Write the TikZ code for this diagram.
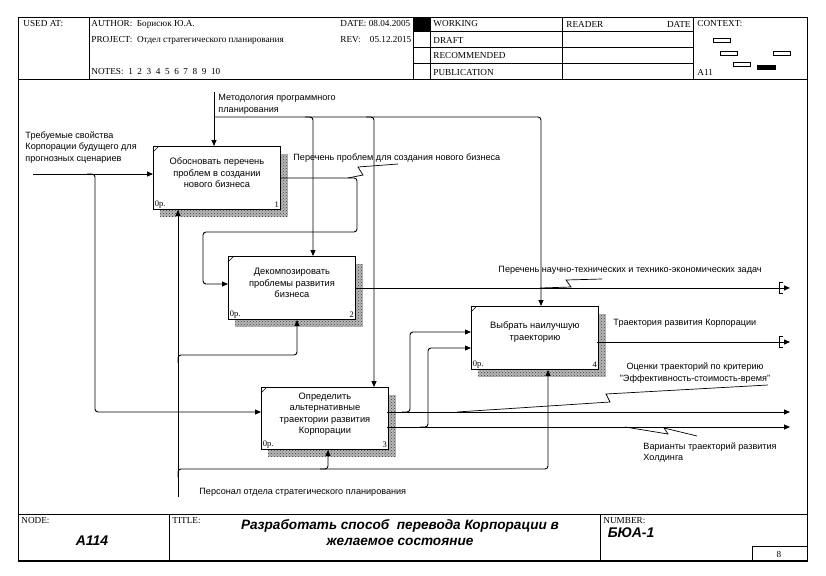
\documentclass[tikz,border=0pt]{standalone}
\usepackage{fontspec}
\setmainfont{Liberation Serif}
\setsansfont{Liberation Sans}
\usetikzlibrary{calc, arrows.meta, patterns, backgrounds}

\newcommand\hdfont{\rmfamily\fontsize{9.2}{10}\selectfont}
\newcommand\tunnelmark[1]{\draw ([shift={(-7,-5.5)}]#1) -- ++(-4,0) -- ++(0,11) -- ++(4,0);}

\tikzset{
  fnbox/.style={draw, fill=white, anchor=north west, minimum width=127pt, minimum height=63pt, inner sep=0pt},
  boxtxt/.style={align=center, inner sep=0pt, font=\sffamily\fontsize{9.3}{11.5}\selectfont},
  lbl/.style={inner sep=1pt, font=\sffamily\fontsize{9.1}{11.5}\selectfont},
  cnr/.style={inner sep=1.5pt, font=\rmfamily\fontsize{8.5}{9}\selectfont},
  hd/.style={inner sep=0pt, font=\hdfont},
  big/.style={font=\sffamily\bfseries\itshape\fontsize{14}{16}\selectfont},
  arr/.style={-{Triangle[length=6pt,width=5pt]}},
  shadowfill/.style={preaction={fill=black!28}, pattern=crosshatch dots, pattern color=black!75}
}

\begin{document}
\begin{tikzpicture}[x=1pt, y=-1pt, line width=0.9pt]
\begin{scope}[on background layer]
\fill[white] (0,0) rectangle (826,575);
\end{scope}
\useasboundingbox (0,0) rectangle (826,575);

% frame
\draw (18,17) rectangle (807,561);
\draw (18,79) -- (807,79);
\draw (18,514) -- (807,514);
\draw[line width=1.6pt] (18,561) -- (807,561);
\foreach \x in {89,413,430,562,693}{
\draw (\x,17) -- (\x,79);
}
\foreach \y in {31,47,63}{
\draw (413,\y) -- (693,\y);
}
\fill (413,17) rectangle (430,31);
\draw (169,514) -- (169,561);
\draw (600,514) -- (600,561);
\draw (752,546) rectangle (807,561);

% header
\node[hd, anchor=west] (usedL) at (23,24) {USED AT:};
\node[hd, anchor=west] (authL) at (91,24) {AUTHOR:\ \ Борисюк Ю.А.};
\node[hd, anchor=west] (projL) at (91,40) {PROJECT:\ \ Отдел стратегического планирования};
\node[hd, anchor=west] (notesL) at (91,72) {NOTES:\ \ 1\ \ 2\ \ 3\ \ 4\ \ 5\ \ 6\ \ 7\ \ 8\ \ 9\ \ 10};
\begin{scope}
\clip (337,17) rectangle (413,47);
\node[hd, anchor=west] (dateL) at (340,24) {DATE:\ 08.04.2005};
\node[hd, anchor=west] (revL) at (340,40) {REV:\ \ \ \ 05.12.2015};
\end{scope}
\foreach \t [count=\i] in {WORKING,DRAFT,RECOMMENDED,PUBLICATION}{
\node[hd, anchor=west] (st\i) at (433,8+16*\i) {\t};
}
\node[hd, anchor=west] (readL) at (566,24) {READER};
\node[hd, anchor=east] (rdateL) at (691,24) {DATE};
\node[hd, anchor=west] (ctxL) at (697,24) {CONTEXT:};
\node[hd, anchor=west] (ctxN) at (697,72) {A11};
\foreach \x/\y in {713/38, 720/51, 773/51, 733/62}{
\draw[line width=0.8pt] (\x,\y) rectangle ++(17,4);
}
\fill (757,65) rectangle ++(19,5);

% footer
\node[hd, anchor=west] (nodeL) at (21,521) {NODE:};
\node[hd, anchor=west] (titL) at (172,521) {TITLE:};
\node[hd, anchor=west] (numL) at (603,521) {NUMBER:};
\node[big] (nodeN) at (92,541) {A114};
\node[big, align=center, font=\sffamily\bfseries\itshape\fontsize{13.6}{16}\selectfont] (titleT) at (400,533) {Разработать способ~ перевода Корпорации в\\желаемое состояние};
\node[big, anchor=west] (numN) at (604,533) {БЮА-1};
\node[hd] (pageN) at (779,554) {8};

% activities
\node[fnbox] (b1) at (153,146) {};
\node[fnbox] (b2) at (228,256) {};
\node[fnbox, minimum height=62pt] (b3) at (261,387) {};
\node[fnbox] (b4) at (471,306) {};
\begin{scope}[on background layer]
\foreach \b in {b1,b2,b3,b4}{
\fill[shadowfill] ([shift={(7,8)}]\b.north west) rectangle ([shift={(7,7)}]\b.south east);
}
\end{scope}
\node[boxtxt] (t1) at ([yshift=5pt]b1.center) {Обосновать перечень\\проблем в создании\\нового бизнеса};
\node[boxtxt] (t2) at ([yshift=5pt]b2.center) {Декомпозировать\\проблемы развития\\бизнеса};
\node[boxtxt] (t3) at ([yshift=4pt]b3.center) {Определить\\альтернативные\\траектории развития\\Корпорации};
\node[boxtxt] (t4) at ([yshift=6pt]b4.center) {Выбрать наилучшую\\траекторию};
\foreach \b/\n in {b1/1, b2/2, b3/3, b4/4}{
\node[cnr, anchor=south west] (\b c) at (\b.south west) {0р.};
\node[cnr, anchor=south east] (\b n) at (\b.south east) {\n};
\draw[line width=0.6pt] ([yshift=-6pt]\b.north west) -- ([xshift=6pt]\b.north west);
}

% points
\coordinate (rEdge) at (790,0);
\coordinate (reqIn) at (33,174);
\coordinate (reqJ) at (95,174);
\coordinate (metTop) at (214,92);
\coordinate (metJ) at (214,117);
\coordinate (metB2) at (313,117);
\coordinate (metB3) at (374,117);
\coordinate (metR) at (541,117);
\coordinate (loopA) at (357,232);
\coordinate (loopB) at (203,284);
\coordinate (o4) at (597,342);
\coordinate (i4a) at (471,332);
\coordinate (i4b) at (471,348);
\coordinate (o3a) at (387,412);
\coordinate (o3b) at (387,427);
\coordinate (j3a) at (410,412);
\coordinate (j3b) at (428,427);
\coordinate (persBot) at (178,497);
\coordinate (pJ2) at (178,355);
\coordinate (pB2) at (297,355);
\coordinate (pJ3) at (178,469);
\coordinate (pB3) at (328,469);
\coordinate (pB4) at (548,469);

% inputs
\draw[arr] (reqIn) -- (reqIn -| b1.west);
\draw[arr, rounded corners=3pt] ([xshift=-8pt]reqJ) -- (reqJ) -- (reqJ |- o3a) -- (b3.west |- o3a);
\draw[arr, rounded corners=3pt] ([xshift=-8pt]j3a) -- (j3a) -- (j3a |- i4a) -- (i4a);
\draw[arr, rounded corners=3pt] ([xshift=-8pt]j3b) -- (j3b) -- (j3b |- i4b) -- (i4b);
\draw[arr, rounded corners=3pt] (b1.east) -- (b1.east -| loopA) -- (loopA) -- (loopA -| loopB) -- (loopB) -- (b2.west |- loopB);

% controls
\draw[arr] (metTop) -- (metTop |- b1.north);
\draw[arr, rounded corners=3pt] (metJ) -- (metR) -- (metR |- b4.north);
\draw[arr, rounded corners=3pt] ([xshift=-8pt]metB2) -- (metB2) -- (metB2 |- b2.north);
\draw[arr, rounded corners=3pt] ([xshift=-8pt]metB3) -- (metB3) -- (metB3 |- b3.north);

% mechanisms
\draw[arr] (persBot) -- (persBot |- b1.south);
\draw[arr, rounded corners=3pt] ([yshift=-8pt]pJ2) -- (pJ2) -- (pB2) -- (pB2 |- b2.south);
\draw[arr, rounded corners=3pt] ([yshift=-8pt]pJ3) -- (pJ3) -- (pB4) -- (pB4 |- b4.south);
\draw[arr, rounded corners=3pt] ([xshift=-8pt]pB3) -- (pB3) -- (pB3 |- b3.south);

% outputs
\draw[arr] (b2.east) -- (b2.east -| rEdge);
\tunnelmark{b2.east -| rEdge}
\draw[arr] (o4) -- (o4 -| rEdge);
\tunnelmark{o4 -| rEdge}
\draw[arr] (o3a) -- (o3a -| rEdge);
\draw[arr] (o3b) -- (o3b -| rEdge);

% labels
\node[lbl, anchor=north west, align=left] (reqL) at (24,130) {Требуемые свойства\\Корпорации будущего для\\прогнозных сценариев};
\node[lbl, anchor=north west, align=left] (metL) at (217,93) {Методология программного\\планирования};
\node[lbl, anchor=west] (o1L) at (292,158) {Перечень проблем для создания нового бизнеса};
\node[lbl, anchor=west] (o2L) at (497,270) {Перечень научно-технических и технико-экономических задач};
\node[lbl, anchor=west] (o4L) at (612,323) {Траектория развития Корпорации};
\node[lbl, align=center] (o3aL) at (695,373) {Оценки траекторий по критерию\\"Эффективность-стоимость-время"};
\node[lbl, anchor=north west, align=left] (o3bL) at (642,441) {Варианты траекторий развития\\Холдинга};
\node[lbl, anchor=west] (persL) at (198,492) {Персонал отдела стратегического планирования};

% squiggles
\draw[line width=0.7pt] (348,178) -- (363,175) -- (358,167) -- (398,164);
\draw[line width=0.7pt] (540,288) -- (571,287) -- (566,280) -- (602,279);
\draw[line width=0.7pt] (457,412) -- (610,402) -- (606,394) -- (768,385);
\draw[line width=0.7pt] (625,427) -- (668,434) -- (664,428) -- (697,436);
\end{tikzpicture}
\end{document}
